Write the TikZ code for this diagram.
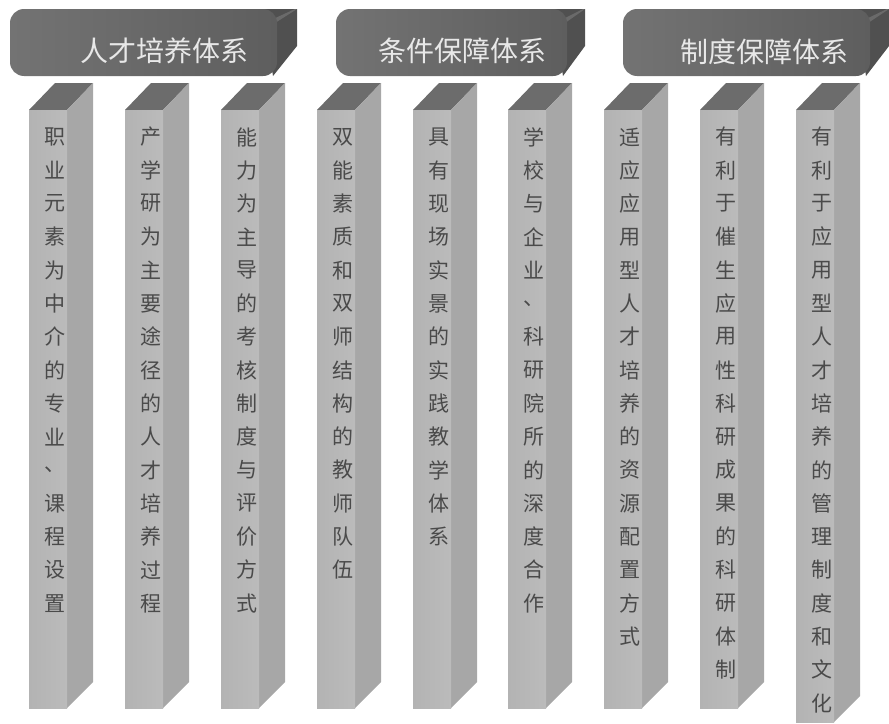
\documentclass[tikz,border=0pt]{standalone}
\usepackage{fontspec}
\newfontfamily\cjk{Noto Sans CJK SC}
\definecolor{hdrL}{HTML}{737373}
\definecolor{hdrR}{HTML}{5E5E5E}
\definecolor{hdrSide}{HTML}{505050}
\definecolor{hdrTxt}{HTML}{E8E8E8}
\definecolor{pfL}{HTML}{B3B3B3}
\definecolor{pfM}{HTML}{C2C2C2}
\definecolor{pfR}{HTML}{BBBBBB}
\definecolor{pSide}{HTML}{A7A7A7}
\definecolor{pTop}{HTML}{6C6C6C}
\definecolor{pTxt}{HTML}{4A4A4A}
\newcommand\hdrbar[3]{% left x, front right x, back right x
  \fill[hdrSide] ({#2-14},9) -- (#3,9) -- (#3,46) -- ({#2-4},76) -- cycle;
  \fill[hdrSide!70!white,opacity=0.5] ({#2-6},20) -- ({#3-2},9) -- (#3,9) -- ({#2-2},23) -- cycle;
  \shade[left color=hdrL, right color=hdrR, rounded corners=14pt] (#1,9) rectangle (#2,76);
}
\newcommand\pillar[2]{% left x, bottom y
  \fill[pTop] (#1,110) -- ({#1+26},83) -- ({#1+64},83) -- ({#1+38},110) -- cycle;
  \fill[pSide] ({#1+38},110) -- ({#1+64},83) -- ({#1+64},{#2-26}) -- ({#1+38},#2) -- cycle;
  \shade[left color=pfL, middle color=pfM, right color=pfR] (#1,110) rectangle ({#1+38},#2);
}
\newcommand\pillartext[3]{% index, left x, list
  \foreach \c [count=\i] in {#3} {\node[ptext] (t#1-\i) at ({#2+26},{137+(\i-1)*33.3}) {\c};}
}
\begin{document}
\begin{tikzpicture}[x=1pt,y=-1pt,
  htext/.style={font=\cjk\fontsize{28}{30}\selectfont, text=hdrTxt, inner sep=0pt},
  ptext/.style={font=\cjk\fontsize{21}{22}\selectfont, text=pTxt, inner sep=0pt}]
\useasboundingbox (0,0) rectangle (889,723);
% headers
\hdrbar{10}{277}{297}
\hdrbar{336}{567}{585}
\hdrbar{623}{870}{889}
\node[htext] (h1) at (164,51) {人才培养体系};
\node[htext] (h2) at (462,51) {条件保障体系};
\node[htext] (h3) at (764,52) {制度保障体系};
% pillars
\pillar{29}{708}
\pillar{125}{708}
\pillar{221}{708}
\pillar{317}{708}
\pillar{413}{708}
\pillar{508}{708}
\pillar{604}{708}
\pillar{700}{708}
\pillar{796}{722}
\pillartext{1}{29}{职,业,元,素,为,中,介,的,专,业,、,课,程,设,置}
\pillartext{2}{125}{产,学,研,为,主,要,途,径,的,人,才,培,养,过,程}
\pillartext{3}{221}{能,力,为,主,导,的,考,核,制,度,与,评,价,方,式}
\pillartext{4}{317}{双,能,素,质,和,双,师,结,构,的,教,师,队,伍}
\pillartext{5}{413}{具,有,现,场,实,景,的,实,践,教,学,体,系}
\pillartext{6}{508}{学,校,与,企,业,、,科,研,院,所,的,深,度,合,作}
\pillartext{7}{604}{适,应,应,用,型,人,才,培,养,的,资,源,配,置,方,式}
\pillartext{8}{700}{有,利,于,催,生,应,用,性,科,研,成,果,的,科,研,体,制}
\pillartext{9}{796}{有,利,于,应,用,型,人,才,培,养,的,管,理,制,度,和,文,化}
\end{tikzpicture}
\end{document}
